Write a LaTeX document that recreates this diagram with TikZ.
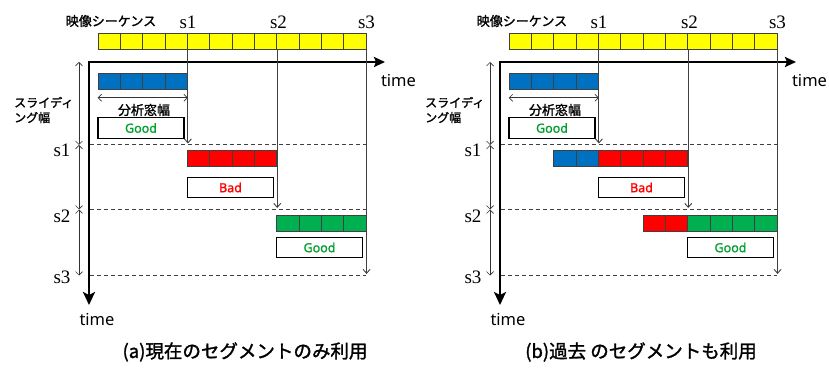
\documentclass[tikz,border=0pt]{standalone}
\usepackage{fontspec}
\setmainfont{Liberation Serif}
\newfontfamily\jp{Noto Sans CJK JP}[FakeBold=1.5]
\newfontfamily\latin{Noto Sans}
\newfontfamily\latinb{Noto Sans}[FakeBold=1.2]
\usetikzlibrary{arrows.meta}
\definecolor{seqyellow}{HTML}{FFFF00}
\definecolor{segblue}{HTML}{0070C0}
\definecolor{segred}{HTML}{FF0000}
\definecolor{seggreen}{HTML}{00B050}
\definecolor{goodgreen}{HTML}{00A030}
\tikzset{
  cell/.style={draw=black!75, line width=0.9pt, minimum width=22.33pt, minimum height=16.2pt, inner sep=0pt, anchor=north west},
  resbox/.style={draw=black, line width=1.4pt, fill=white, minimum width=86pt, minimum height=20.5pt, inner sep=0pt, font=\latinb\fontsize{12.5}{13}\selectfont},
  axisline/.style={line width=2.5pt, line join=miter},
  vline/.style={draw=black!75, line width=0.9pt, -{Straight Barb[length=4pt,width=7pt]}},
  dblarrow/.style={draw=black!80, line width=0.7pt, {Straight Barb[length=3.5pt,width=7pt]}-{Straight Barb[length=3.5pt,width=7pt]}},
  dashline/.style={draw=black!75, line width=1pt, dash pattern=on 4pt off 3pt},
  slbl/.style={font=\fontsize{19}{20}\selectfont, inner sep=0pt},
  timelbl/.style={font=\latin\fontsize{16.5}{18}\selectfont, inner sep=0pt},
  jplbl/.style={font=\jp\fontsize{13}{14}\selectfont, inner sep=0pt},
  caplbl/.style={font=\jp\fontsize{18.5}{20}\selectfont, inner sep=0pt}
}
\newcommand\panelbase[1]{%
  % video sequence
  \foreach \i in {0,...,11} \node[cell, fill=seqyellow] (#1-y\i) at ({97.7+22.33*\i},33.3) {};
  \node[jplbl] (#1-seq) at (111,21) {映像シーケンス};
  \node[slbl] (#1-ts1) at (188,22) {s1};
  \node[slbl] (#1-ts2) at (278.5,22) {s2};
  \node[slbl] (#1-ts3) at (366.5,22) {s3};
  % axes
  \coordinate (#1-o) at (89,62);
  \coordinate (#1-xend) at (385,62);
  \coordinate (#1-yend) at (89,305);
  \draw[axisline, {Stealth[length=13pt,width=12pt,inset=3pt]}-{Stealth[length=11pt,width=10pt,inset=2pt]}] (#1-yend) -- (#1-o) -- (#1-xend);
  \node[timelbl] (#1-tx) at (398.5,81) {time};
  \node[timelbl] (#1-ty) at (97,320) {time};
  % blue window and its width
  \foreach \i in {0,...,3} \node[cell, fill=segblue] (#1-b\i) at ({97.7+22.33*\i},72.7) {};
  \draw[dblarrow] ([yshift=-8pt]#1-b0.south west) -- ([yshift=-8pt]#1-b3.south east);
  \node[jplbl] (#1-win) at (144,110) {分析窓幅};
  \node[resbox, text=goodgreen] (#1-r1) at (141,128) {Good};
  \node[resbox, text=segred] (#1-r2) at (230.5,187.5) {Bad};
  \node[resbox, text=goodgreen] (#1-r3) at (319.5,247.5) {Good};
  % dashed levels
  \coordinate (#1-d1l) at (90,145);   \coordinate (#1-d1r) at (365.5,145);
  \coordinate (#1-d2l) at (90,209.5); \coordinate (#1-d2r) at (365.5,209.5);
  \coordinate (#1-d3l) at (90,275.5); \coordinate (#1-d3r) at (365.5,275.5);
  \draw[dashline] (#1-d1l) -- (#1-d1r);
  \draw[dashline] (#1-d2l) -- (#1-d2r);
  \draw[dashline] (#1-d3l) -- (#1-d3r);
  % vertical guides from s1, s2, s3
  \draw[vline] (#1-y3.south east) -- ([yshift=1.5pt]#1-y3.south east |- #1-d1l);
  \draw[vline] (#1-y7.south east) -- ([yshift=1.5pt]#1-y7.south east |- #1-d2l);
  \draw[vline] (#1-y11.south east) -- ([yshift=1.5pt]#1-y11.south east |- #1-d3l);
  % sliding width arrows
  \coordinate (#1-l0) at (79,62);
  \coordinate (#1-l1) at (79,145);
  \coordinate (#1-l2) at (79,209.5);
  \coordinate (#1-l3) at (79,275.5);
  \draw[dblarrow] (#1-l0) -- (#1-l1);
  \draw[dblarrow] (#1-l1) -- (#1-l2);
  \draw[dblarrow] (#1-l2) -- (#1-l3);
  \node[slbl] (#1-s1) at (62,150) {s1};
  \node[slbl] (#1-s2) at (62,216) {s2};
  \node[slbl] (#1-s3) at (62,277) {s3};
  \node[jplbl, font=\jp\fontsize{12}{15}\selectfont, anchor=west, align=left] (#1-slide) at (14,110) {スライディ\\ング幅};
}
\begin{document}
\begin{tikzpicture}[x=1pt, y=-1pt]
\useasboundingbox (0,0) rectangle (829,371);
% ---- panel (a)
\begin{scope}
  \panelbase{a}
  \foreach \i in {0,...,3} \node[cell, fill=segred, minimum height=15.7pt] (a-r\i) at ({187+22.33*\i},150) {};
  \foreach \i in {0,...,3} \node[cell, fill=seggreen] (a-g\i) at ({276.3+22.33*\i},215) {};
\end{scope}
% ---- panel (b)
\begin{scope}[xshift=411pt]
  \panelbase{b}
  \foreach \i in {0,1} \node[cell, fill=segblue, minimum height=15.7pt] (b-pb\i) at ({142.4+22.33*\i},150) {};
  \foreach \i in {0,...,3} \node[cell, fill=segred, minimum height=15.7pt] (b-r\i) at ({187+22.33*\i},150) {};
  \foreach \i in {0,1} \node[cell, fill=segred] (b-pr\i) at ({231.7+22.33*\i},215) {};
  \foreach \i in {0,...,3} \node[cell, fill=seggreen] (b-g\i) at ({276.3+22.33*\i},215) {};
\end{scope}
\node[caplbl] (capa) at (245,352) {(a)現在のセグメントのみ利用};
\node[caplbl] (capb) at (641,352) {(b)過去 のセグメントも利用};
\end{tikzpicture}
\end{document}
